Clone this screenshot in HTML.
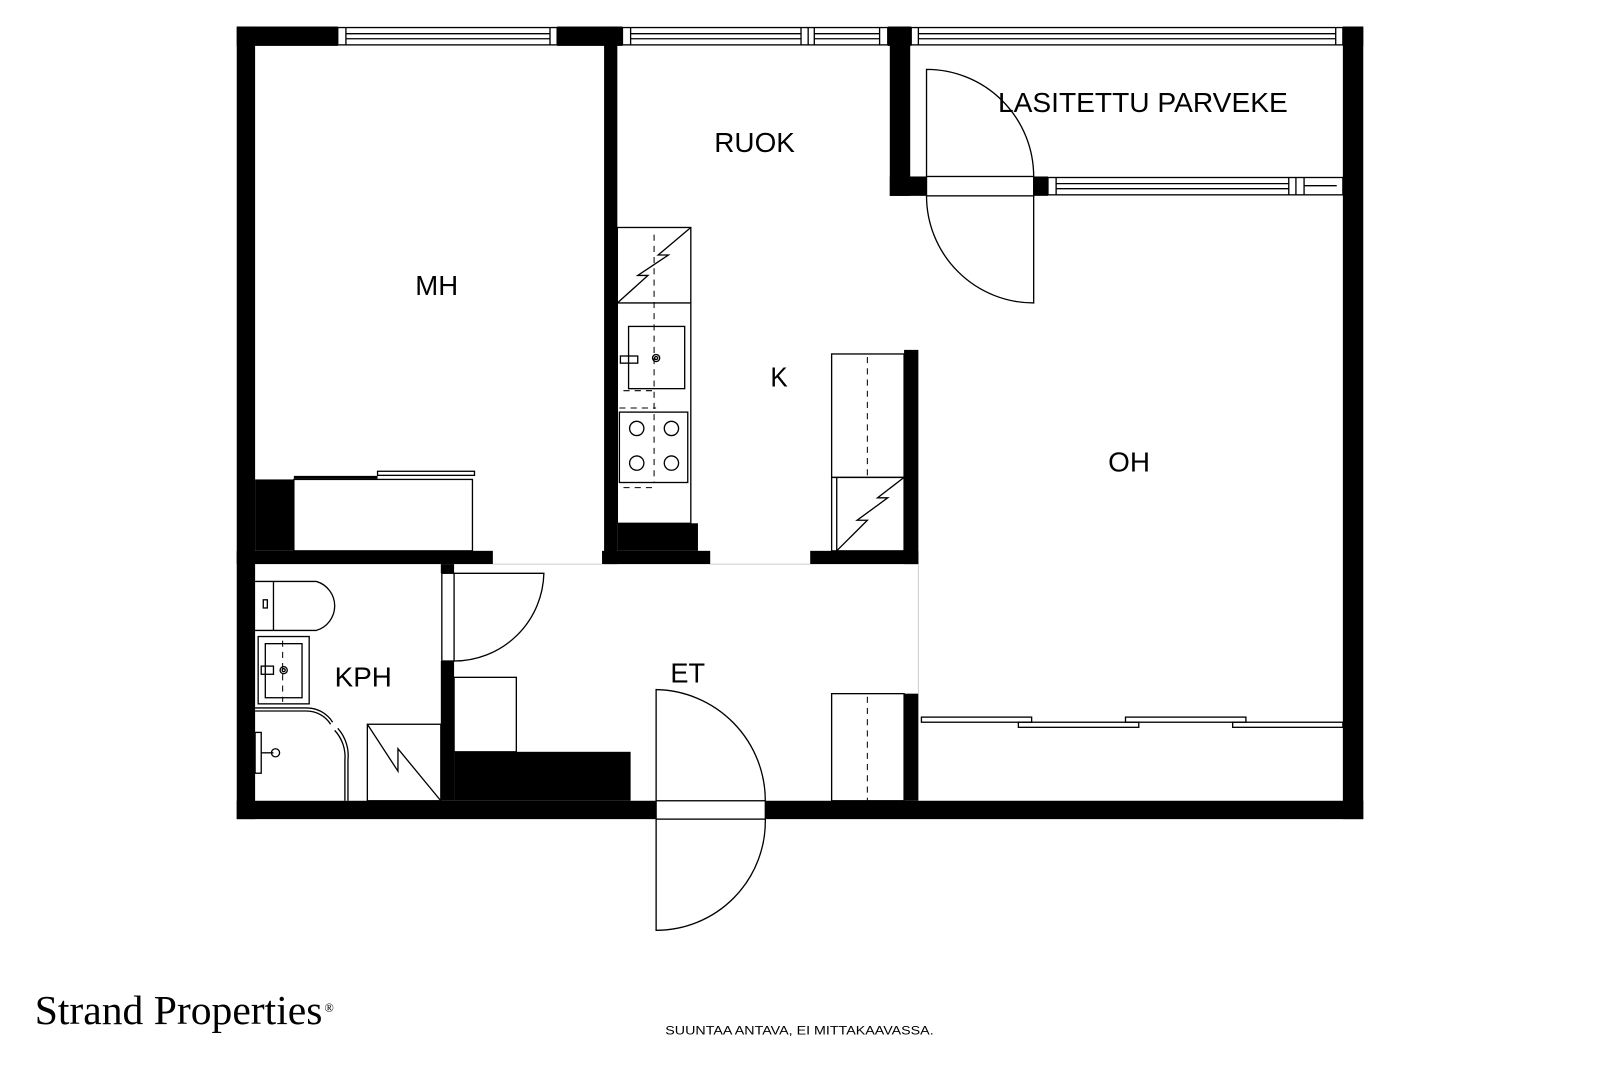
<!DOCTYPE html>
<html><head><meta charset="utf-8"><style>
html,body{margin:0;padding:0;background:#fff;}
svg{display:block;}
text{font-family:"Liberation Sans",Arial,sans-serif;fill:#000;}
</style></head><body>
<svg width="1600" height="1067" viewBox="0 0 1568 1046" preserveAspectRatio="none" xmlns="http://www.w3.org/2000/svg">
<rect width="1568" height="1046" fill="#fff"/>
<g fill="#000">
<rect x="232" y="26" width="99" height="19"/>
<rect x="546" y="26" width="64" height="19"/>
<rect x="870" y="26" width="23" height="19"/>
<rect x="1316" y="26" width="20" height="19"/>
<rect x="232" y="26" width="18" height="777"/>
<rect x="1316" y="26" width="20" height="777"/>
<rect x="232" y="785" width="411" height="18"/>
<rect x="750" y="785" width="586" height="18"/>
<rect x="592" y="26" width="13" height="527"/>
<rect x="872" y="26" width="20" height="166"/>
<rect x="872" y="173" width="36" height="19"/>
<rect x="1013" y="173" width="14" height="19"/>
<rect x="232" y="540" width="251" height="13"/>
<rect x="590" y="540" width="106" height="13"/>
<rect x="794" y="540" width="106" height="13"/>
<rect x="250" y="470" width="38" height="70"/>
<rect x="605" y="513" width="79" height="27"/>
<rect x="886" y="343" width="14" height="210"/>
<rect x="432" y="553" width="13" height="9"/>
<rect x="432" y="648" width="13" height="137"/>
<rect x="445" y="737" width="173" height="48"/>
<rect x="886" y="680" width="14" height="105"/>
</g>
<g fill="none" stroke="#000" stroke-width="1.3">
<rect x="331" y="27" width="215" height="17"/><line x1="339" y1="33" x2="539" y2="33"/><line x1="339" y1="38" x2="539" y2="38"/><line x1="339" y1="27" x2="339" y2="44"/><line x1="539" y1="27" x2="539" y2="44"/>
<rect x="610" y="27" width="260" height="17"/><line x1="618" y1="33" x2="785" y2="33"/><line x1="618" y1="38" x2="785" y2="38"/><line x1="618" y1="27" x2="618" y2="44"/><line x1="785" y1="27" x2="785" y2="44"/><line x1="792" y1="27" x2="792" y2="44"/><line x1="798" y1="33" x2="862" y2="33"/><line x1="798" y1="38" x2="862" y2="38"/><line x1="798" y1="27" x2="798" y2="44"/><line x1="862" y1="27" x2="862" y2="44"/>
<rect x="893" y="27" width="423" height="17"/><line x1="900" y1="33" x2="1309" y2="33"/><line x1="900" y1="38" x2="1309" y2="38"/><line x1="900" y1="27" x2="900" y2="44"/><line x1="1309" y1="27" x2="1309" y2="44"/>
<rect x="1027" y="174" width="289" height="17"/><line x1="1035" y1="180" x2="1263" y2="180"/><line x1="1035" y1="185" x2="1263" y2="185"/><line x1="1035" y1="174" x2="1035" y2="191"/><line x1="1263" y1="174" x2="1263" y2="191"/><line x1="1270" y1="174" x2="1270" y2="191"/><line x1="1278" y1="174" x2="1278" y2="191"/><line x1="1278" y1="182" x2="1310" y2="182"/>
<rect x="908" y="173" width="105" height="19"/>
<path d="M908,173 L908,68 A105,105 0 0 1 1013,173"/>
<path d="M1013,192 L1013,297 A105,105 0 0 1 908,192"/>
<rect x="643" y="785" width="107" height="18"/>
<path d="M643,785 L643,676 A109,109 0 0 1 750,785"/>
<path d="M643,803 L643,912 A107,107 0 0 0 750,803"/>
<rect x="433" y="562" width="12" height="86"/>
<path d="M445,562 L533,562 A88,88 0 0 1 445,648"/>
<rect x="288" y="470" width="175" height="70"/>
<rect x="370" y="462" width="95" height="4"/>
<line x1="288" y1="468" x2="370" y2="468" stroke-width="3"/>
<rect x="605" y="223" width="72" height="290"/>
<line x1="605" y1="297" x2="677" y2="297"/>
<polyline points="605,297 635,270 625,270 655,250 645,250 677,223"/>
<rect x="616" y="320" width="55" height="61"/>
<rect x="608" y="349" width="17" height="7"/>
<circle cx="643" cy="351" r="3.5"/><circle cx="643" cy="351" r="1.5"/>
<rect x="607" y="404" width="67" height="69"/>
<circle cx="624" cy="420" r="7"/><circle cx="658" cy="420" r="7"/><circle cx="624" cy="454" r="7"/><circle cx="658" cy="454" r="7"/>
<rect x="815" y="347" width="71" height="121"/>
<rect x="815" y="468" width="71" height="72"/>
<line x1="820" y1="468" x2="820" y2="540"/>
<polyline points="820,540 850,510 840,510 870,488 860,488 886,468"/>
<rect x="815" y="680" width="71" height="105"/>
<rect x="445" y="664" width="61" height="73"/>
<rect x="903" y="703" width="108" height="5"/>
<rect x="998" y="708" width="118" height="5"/>
<rect x="1103" y="703" width="118" height="5"/>
<rect x="1208" y="708" width="108" height="5"/>
<path d="M250,570 L310,570 A25,25 0 0 1 310,618 L250,618"/>
<line x1="268" y1="570" x2="268" y2="618"/>
<rect x="258" y="588" width="4" height="8"/>
<rect x="253" y="624" width="50" height="66"/>
<rect x="260" y="631" width="36" height="53"/>
<rect x="256" y="653" width="12" height="8"/>
<circle cx="278" cy="657" r="3.5"/><circle cx="278" cy="657" r="1.5"/>
<path d="M250,694 L300,694 A30,30 0 0 1 326,708"/>
<path d="M250,697 L300,697 A28,28 0 0 1 324,710"/>
<path d="M331,714 A40,40 0 0 1 341,745 L341,785"/>
<path d="M328,716 A38,38 0 0 1 338,745 L338,785"/>
<rect x="250" y="718" width="6" height="40"/>
<line x1="256" y1="738" x2="268" y2="738"/><circle cx="270" cy="738" r="4"/>
<rect x="360" y="710" width="72" height="75"/>
<polyline points="360,710 390,756 390,734 432,785"/>
</g>
<g fill="none" stroke="#000" stroke-width="1" stroke-dasharray="6,5">
<line x1="641" y1="230" x2="641" y2="473"/>
<line x1="611" y1="383" x2="643" y2="383"/>
<line x1="607" y1="400" x2="643" y2="400"/>
<line x1="611" y1="478" x2="643" y2="478"/>
<line x1="850" y1="350" x2="850" y2="468"/>
<line x1="850" y1="683" x2="850" y2="785"/>
<line x1="277" y1="628" x2="277" y2="688"/>
</g>
<g stroke="#ccc" stroke-width="1">
<line x1="483" y1="553" x2="590" y2="553"/>
<line x1="696" y1="553" x2="794" y2="553"/>
<line x1="900" y1="553" x2="900" y2="680"/>
</g>
<g font-size="27">
<text x="407" y="289" textLength="42" lengthAdjust="spacingAndGlyphs">MH</text>
<text x="700" y="149" textLength="79" lengthAdjust="spacingAndGlyphs">RUOK</text>
<text x="755" y="379" textLength="17" lengthAdjust="spacingAndGlyphs">K</text>
<text x="1086" y="462" textLength="41" lengthAdjust="spacingAndGlyphs">OH</text>
<text x="978" y="110" textLength="284" lengthAdjust="spacingAndGlyphs">LASITETTU PARVEKE</text>
<text x="328" y="673" textLength="56" lengthAdjust="spacingAndGlyphs">KPH</text>
<text x="657" y="669" textLength="34" lengthAdjust="spacingAndGlyphs">ET</text>
</g>
<text x="34" y="1004" font-size="40" textLength="282" lengthAdjust="spacingAndGlyphs" style="font-family:'Liberation Serif',serif">Strand Properties</text>
<text x="318" y="992" font-size="12" style="font-family:'Liberation Serif',serif">®</text>
<text x="652" y="1014" font-size="12" textLength="263" lengthAdjust="spacingAndGlyphs">SUUNTAA ANTAVA, EI MITTAKAAVASSA.</text>
</svg>
</body></html>
